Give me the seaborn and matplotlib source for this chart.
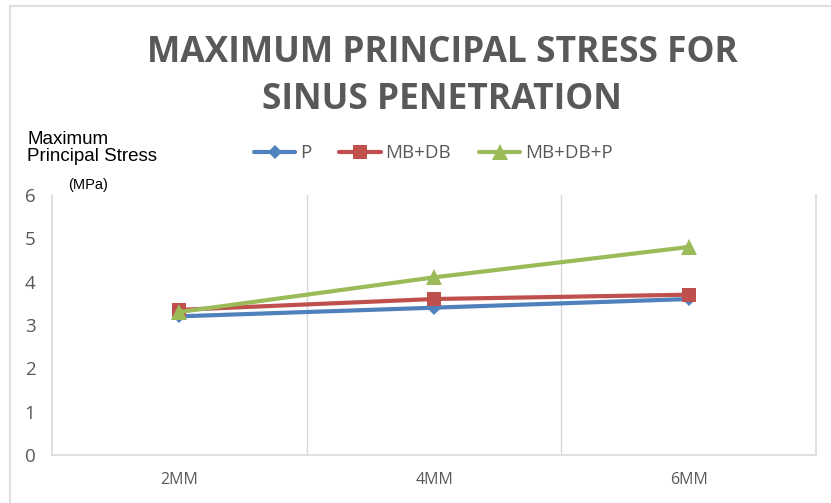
import numpy as np
import pandas as pd
import matplotlib.pyplot as plt
import seaborn as sns
from matplotlib.lines import Line2D

# data
depths = ['2MM', '4MM', '6MM']
p_vals = [3.2, 3.4, 3.6]
mbdb_vals = [3.35, 3.6, 3.7]
mbdbp_vals = [3.3, 4.1, 4.8]
series_names = ['P', 'MB+DB', 'MB+DB+P']
y_ticks = [0, 1, 2, 3, 4, 5, 6]

df = pd.DataFrame({'depth': depths * 3,
                   'x': list(range(len(depths))) * 3,
                   'stress': p_vals + mbdb_vals + mbdbp_vals,
                   'series': [s for s in series_names for _ in depths]})

sns.set_theme(style='white')
plt.rcParams['font.family'] = ['Open Sans', 'DejaVu Sans']

colors = {'P': '#4F81BD', 'MB+DB': '#C0504D', 'MB+DB+P': '#9BBB59'}
markers = {'P': 'D', 'MB+DB': 's', 'MB+DB+P': '^'}
msizes = {'P': 7, 'MB+DB': 10, 'MB+DB+P': 11}
grey = '#595959'

fig = plt.figure(figsize=(8.31, 5.03), dpi=100)
ax = fig.add_axes([0.0626, 0.0954, 0.9195, 0.5169])

for name in series_names:
    sub = df[df['series'] == name]
    sns.lineplot(data=sub, x='x', y='stress', ax=ax, color=colors[name],
                 marker=markers[name], markersize=msizes[name],
                 markeredgewidth=0, linewidth=3, label=name)

ax.set_xlim(-0.5, 2.5)
ax.set_ylim(0, 6)
ax.set_xticks(range(len(depths)))
ax.set_xticklabels(depths)
ax.set_yticks(y_ticks)
ax.set_xticks([0.5, 1.5], minor=True)
ax.grid(False)
ax.grid(which='minor', axis='x', color='#D9D9D9', linewidth=1)
ax.spines['top'].set_visible(False)
for s in ['left', 'right', 'bottom']:
    ax.spines[s].set_color('#D9D9D9')
    ax.spines[s].set_linewidth(1.2)
ax.tick_params(axis='both', which='both', length=0, colors=grey, labelsize=13.5)
ax.tick_params(axis='y', pad=12)
ax.tick_params(axis='x', pad=12)
for lab in ax.get_xticklabels():
    lab.set_fontsize(11.5)
ax.set_xlabel('')
ax.set_ylabel('')

leg = ax.legend(loc='center left', bbox_to_anchor=(0.252, 1.16), ncol=3, frameon=False,
                fontsize=13.5, handlelength=2.2, handletextpad=0.25, columnspacing=1.5,
                borderpad=0, labelcolor=grey)

fig.text(0.532, 0.848, 'MAXIMUM PRINCIPAL STRESS FOR\nSINUS PENETRATION',
         ha='center', va='center', fontsize=25.5, fontweight='bold', color=grey,
         linespacing=1.42)
fig.text(0.033, 0.705, 'Maximum\nPrincipal Stress', ha='left', va='center',
         fontsize=13.5, color='black', family='Liberation Sans', linespacing=1.0)
fig.text(0.082, 0.632, '(MPa)', ha='left', va='center', fontsize=10.5,
         color='black', family='Liberation Sans')

# chart area border (left and top)
fig.add_artist(Line2D([0.012, 0.012], [0, 0.988], color='#E0E0E0', linewidth=1.5))
fig.add_artist(Line2D([0.012, 1.0], [0.988, 0.988], color='#E0E0E0', linewidth=1.5))

fig.savefig('out.png', dpi=100)
